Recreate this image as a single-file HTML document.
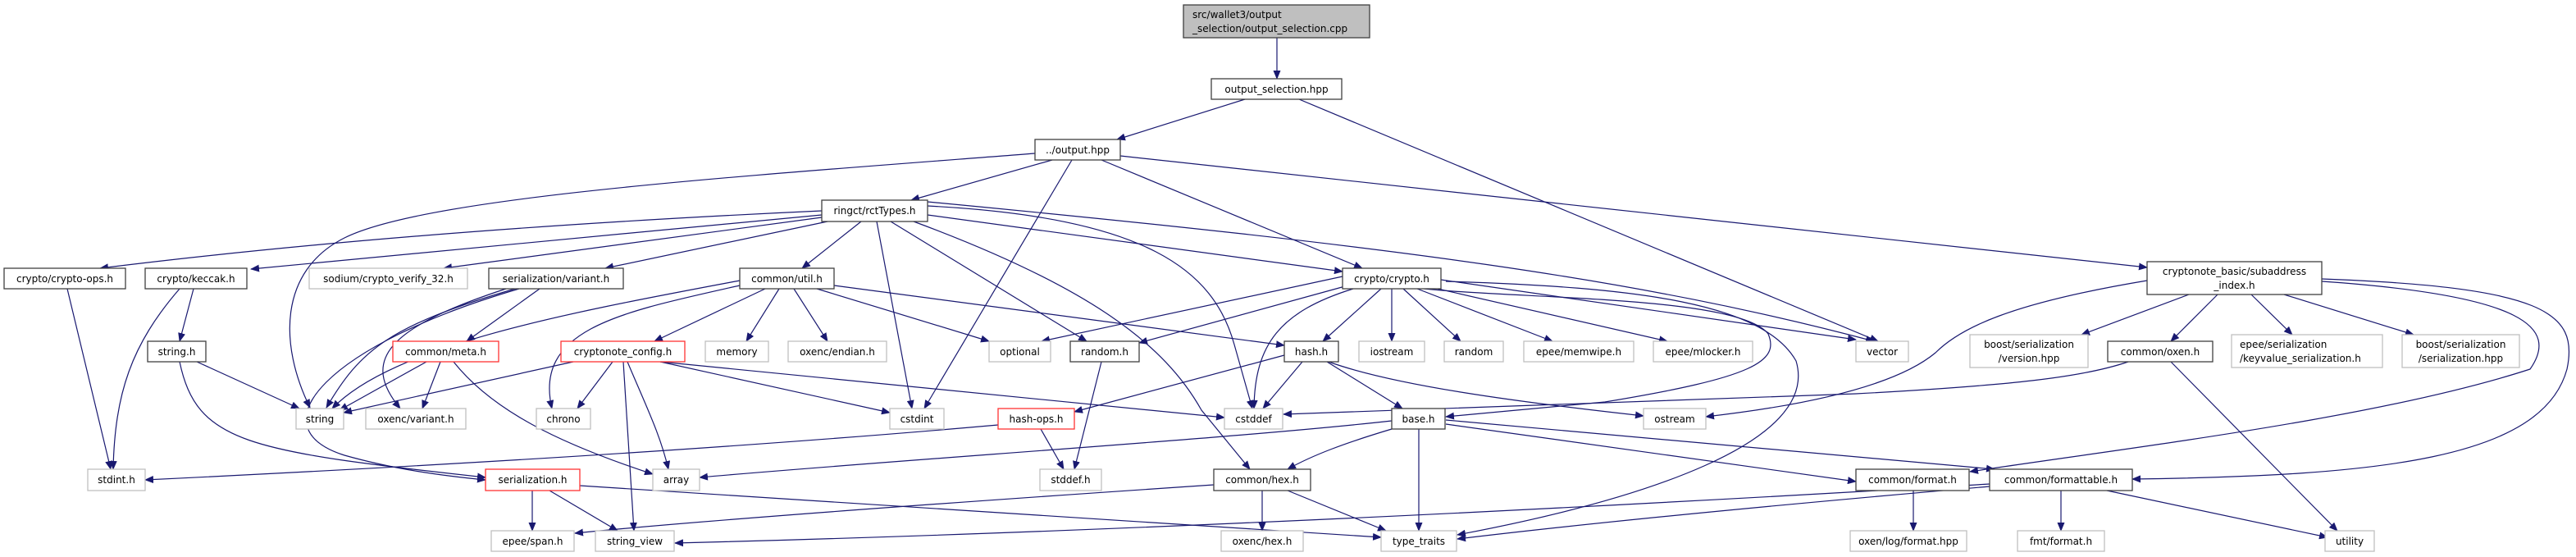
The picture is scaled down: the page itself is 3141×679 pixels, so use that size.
<!DOCTYPE html>
<html><head><meta charset="utf-8"><style>
html,body{margin:0;padding:0;background:#fff}
svg{display:block}
text{font-family:"DejaVu Sans","Liberation Sans",sans-serif;font-size:12px;fill:#000}
.e{fill:none;stroke:#191970;stroke-width:1.2}
.b{fill:#fff;stroke:#404040;stroke-width:1.3}
.g{fill:#fff;stroke:#bfbfbf;stroke-width:1.3}
.r{fill:#fff;stroke:#ff3333;stroke-width:1.3}
</style></head><body>
<svg width="3141" height="679" viewBox="0 0 3141 679" xmlns="http://www.w3.org/2000/svg">
<defs><marker id="a" markerWidth="11" markerHeight="9" refX="10" refY="4.5" orient="auto" markerUnits="userSpaceOnUse"><path d="M0,0 L11,4.5 L0,9 z" fill="#191970"/></marker></defs>
<g class="e" marker-end="url(#a)">
<path d="M1557,46 L1557,96"/>
<path d="M1518,121 L1362,170"/>
<path d="M1584,121 L2290,416"/>
<path d="M1283,195 L1111,244"/>
<path d="M1262,187 C900,215 520,240 420,290 C340,330 340,420 378,497"/>
<path d="M1307,195 L1127,498"/>
<path d="M1343,195 L1661,327"/>
<path d="M1366,190 L2618,326"/>
<path d="M1002,257 Q500,280 122,327"/>
<path d="M1002,262 L306,328"/>
<path d="M1002,265 L541,327"/>
<path d="M1009,270 L738,327"/>
<path d="M1050,270 L978,327"/>
<path d="M1069,270 L1112,498"/>
<path d="M1086,270 L1325,416"/>
<path d="M1114,270 C1330,350 1420,420 1465,500 L1524,572"/>
<path d="M1131,251 C1400,265 1480,330 1505,420 L1527,498"/>
<path d="M1131,262 L1637,331"/>
<path d="M1131,246 C1700,300 2000,340 2285,416"/>
<path d="M628,352 C474,397 439,427 398,497"/>
<path d="M617,352 C470,400 440,440 488,498"/>
<path d="M633,352 C400,420 310,520 420,555 C480,572 540,580 592,585"/>
<path d="M658,352 L569,416"/>
<path d="M902,342 C700,380 480,420 405,498"/>
<path d="M902,348 C760,380 650,400 673,498"/>
<path d="M933,352 L798,416"/>
<path d="M950,352 L910,416"/>
<path d="M968,352 L1009,416"/>
<path d="M996,352 L1206,416"/>
<path d="M1017,348 L1566,421"/>
<path d="M699,441 L419,503"/>
<path d="M747,441 L704,498"/>
<path d="M760,441 L773,647"/>
<path d="M765,441 C790,500 805,530 815,572"/>
<path d="M805,441 L1085,503"/>
<path d="M805,441 L1493,509"/>
<path d="M520,441 L414,500"/>
<path d="M537,441 L515,498"/>
<path d="M553,441 C600,500 680,540 796,578"/>
<path d="M240,441 L365,498"/>
<path d="M219,441 C240,540 300,550 592,582"/>
<path d="M236,352 L219,416"/>
<path d="M219,352 C160,420 140,480 138,572"/>
<path d="M82,352 L135,572"/>
<path d="M1217,518 Q800,555 177,585"/>
<path d="M1269,523 L1297,572"/>
<path d="M1343,441 L1310,572"/>
<path d="M1566,433 L1310,502"/>
<path d="M1588,441 L1540,498"/>
<path d="M1618,441 L1710,498"/>
<path d="M1620,441 C1700,470 1850,490 2004,507"/>
<path d="M1684,352 L1613,416"/>
<path d="M1697,352 L1697,416"/>
<path d="M1711,352 L1781,416"/>
<path d="M1728,352 L1893,416"/>
<path d="M1753,352 L2033,416"/>
<path d="M1757,341 L2263,414"/>
<path d="M1637,337 L1270,416"/>
<path d="M1640,349 L1389,418"/>
<path d="M1650,352 C1560,380 1530,420 1529,498"/>
<path d="M1727,351 C1850,365 2120,360 2156,407 C2170,440 2140,460 1957,490 L1763,508"/>
<path d="M1763,343 C2000,350 2150,370 2190,440 C2220,540 2000,610 1777,652"/>
<path d="M1697,513 C1500,535 1100,560 853,582"/>
<path d="M1697,523 C1640,540 1600,555 1570,572"/>
<path d="M1730,523 L1730,647"/>
<path d="M1763,517 L2263,587"/>
<path d="M1763,512 L2432,572"/>
<path d="M1539,598 L1539,647"/>
<path d="M1570,598 L1690,647"/>
<path d="M1480,591 Q900,630 701,650"/>
<path d="M649,598 L649,647"/>
<path d="M670,598 L753,647"/>
<path d="M707,592 Q1200,625 1684,655"/>
<path d="M2333,598 L2333,647"/>
<path d="M2426,593 Q2000,630 1777,657"/>
<path d="M2426,590 Q1500,645 823,662"/>
<path d="M2513,598 L2513,647"/>
<path d="M2569,598 L2838,655"/>
<path d="M2669,359 L2538,408"/>
<path d="M2704,359 L2647,416"/>
<path d="M2745,359 L2795,408"/>
<path d="M2785,359 L2943,408"/>
<path d="M2618,342 C2450,370 2390,400 2360,430 C2300,480 2150,500 2080,508"/>
<path d="M2831,340 C3100,350 3145,380 3130,450 C3100,560 2900,580 2600,584"/>
<path d="M2831,343 C3080,360 3120,400 3085,450 C2900,510 2600,545 2402,575"/>
<path d="M2595,441 C2540,460 2450,470 2263,480 L1565,505"/>
<path d="M2647,441 L2850,647"/>
</g>
<!-- nodes -->
<rect x="1443" y="6" width="227" height="40" fill="#bfbfbf" stroke="#404040" stroke-width="1.3"/>
<text x="1454" y="22">src/wallet3/output</text><text x="1454" y="39">_selection/output_selection.cpp</text>
<g>
<rect class="b" x="1477" y="96" width="159" height="25"/><text x="1556.5" y="113" text-anchor="middle">output_selection.hpp</text>
<rect class="b" x="1262" y="170" width="104" height="25"/><text x="1314" y="187" text-anchor="middle">../output.hpp</text>
<rect class="b" x="1002" y="244" width="129" height="26"/><text x="1066.5" y="261" text-anchor="middle">ringct/rctTypes.h</text>
</g>
<g text-anchor="middle">
<rect class="b" x="5" y="327" width="148" height="25"/><text x="79" y="344">crypto/crypto-ops.h</text>
<rect class="b" x="177" y="327" width="124" height="25"/><text x="239" y="344">crypto/keccak.h</text>
<rect class="g" x="377" y="327" width="193" height="25"/><text x="473.5" y="344">sodium/crypto_verify_32.h</text>
<rect class="b" x="596" y="327" width="164" height="25"/><text x="678" y="344">serialization/variant.h</text>
<rect class="b" x="902" y="327" width="115" height="25"/><text x="959.5" y="344">common/util.h</text>
<rect class="b" x="1637" y="327" width="120" height="25"/><text x="1697" y="344">crypto/crypto.h</text>
<rect class="b" x="2618" y="319" width="213" height="40"/><text x="2724.5" y="335">cryptonote_basic/subaddress</text><text x="2724.5" y="352">_index.h</text>

<rect class="b" x="180" y="416" width="71" height="25"/><text x="215.5" y="433">string.h</text>
<rect class="r" x="479" y="416" width="129" height="25"/><text x="543.5" y="433">common/meta.h</text>
<rect class="r" x="684" y="416" width="151" height="25"/><text x="759.5" y="433">cryptonote_config.h</text>
<rect class="g" x="860" y="416" width="77" height="25"/><text x="898.5" y="433">memory</text>
<rect class="g" x="961" y="416" width="120" height="25"/><text x="1021" y="433">oxenc/endian.h</text>
<rect class="g" x="1206" y="416" width="75" height="25"/><text x="1243.5" y="433">optional</text>
<rect class="b" x="1305" y="416" width="84" height="25"/><text x="1347" y="433">random.h</text>
<rect class="b" x="1566" y="416" width="66" height="25"/><text x="1599" y="433">hash.h</text>
<rect class="g" x="1657" y="416" width="80" height="25"/><text x="1697" y="433">iostream</text>
<rect class="g" x="1761" y="416" width="72" height="25"/><text x="1797" y="433">random</text>
<rect class="g" x="1858" y="416" width="134" height="25"/><text x="1925" y="433">epee/memwipe.h</text>
<rect class="g" x="2016" y="416" width="121" height="25"/><text x="2076.5" y="433">epee/mlocker.h</text>
<rect class="g" x="2263" y="416" width="64" height="25"/><text x="2295" y="433">vector</text>
<rect class="g" x="2402" y="408" width="144" height="40"/><text x="2474" y="424">boost/serialization</text><text x="2474" y="441">/version.hpp</text>
<rect class="b" x="2570" y="416" width="128" height="25"/><text x="2634" y="433">common/oxen.h</text>
<rect class="g" x="2721" y="408" width="184" height="40"/><text x="2731" y="424" text-anchor="start">epee/serialization</text><text x="2731" y="441" text-anchor="start">/keyvalue_serialization.h</text>
<rect class="g" x="2929" y="408" width="143" height="40"/><text x="3000.5" y="424">boost/serialization</text><text x="3000.5" y="441">/serialization.hpp</text>

<rect class="g" x="361" y="498" width="58" height="25"/><text x="390" y="515">string</text>
<rect class="g" x="446" y="498" width="122" height="25"/><text x="507" y="515">oxenc/variant.h</text>
<rect class="g" x="654" y="498" width="66" height="25"/><text x="687" y="515">chrono</text>
<rect class="g" x="1085" y="498" width="66" height="25"/><text x="1118" y="515">cstdint</text>
<rect class="r" x="1217" y="498" width="93" height="25"/><text x="1263.5" y="515">hash-ops.h</text>
<rect class="g" x="1493" y="498" width="71" height="25"/><text x="1528.5" y="515">cstddef</text>
<rect class="b" x="1697" y="498" width="65" height="25"/><text x="1729.5" y="515">base.h</text>
<rect class="g" x="2004" y="498" width="76" height="25"/><text x="2042" y="515">ostream</text>

<rect class="g" x="107" y="572" width="70" height="26"/><text x="142" y="589">stdint.h</text>
<rect class="r" x="592" y="572" width="115" height="26"/><text x="649.5" y="589">serialization.h</text>
<rect class="g" x="796" y="572" width="57" height="26"/><text x="824.5" y="589">array</text>
<rect class="g" x="1268" y="572" width="75" height="26"/><text x="1305.5" y="589">stddef.h</text>
<rect class="b" x="1480" y="572" width="118" height="26"/><text x="1539" y="589">common/hex.h</text>
<rect class="b" x="2263" y="572" width="138" height="26"/><text x="2332" y="589">common/format.h</text>
<rect class="b" x="2426" y="572" width="174" height="26"/><text x="2513" y="589">common/formattable.h</text>

<rect class="g" x="599" y="647" width="101" height="25"/><text x="649.5" y="664">epee/span.h</text>
<rect class="g" x="726" y="647" width="96" height="25"/><text x="774" y="664">string_view</text>
<rect class="g" x="1489" y="647" width="100" height="25"/><text x="1539" y="664">oxenc/hex.h</text>
<rect class="g" x="1684" y="647" width="92" height="25"/><text x="1730" y="664">type_traits</text>
<rect class="g" x="2256" y="647" width="142" height="25"/><text x="2327" y="664">oxen/log/format.hpp</text>
<rect class="g" x="2460" y="647" width="106" height="25"/><text x="2513" y="664">fmt/format.h</text>
<rect class="g" x="2835" y="647" width="60" height="25"/><text x="2865" y="664">utility</text>
</g>
</svg>
</body></html>
